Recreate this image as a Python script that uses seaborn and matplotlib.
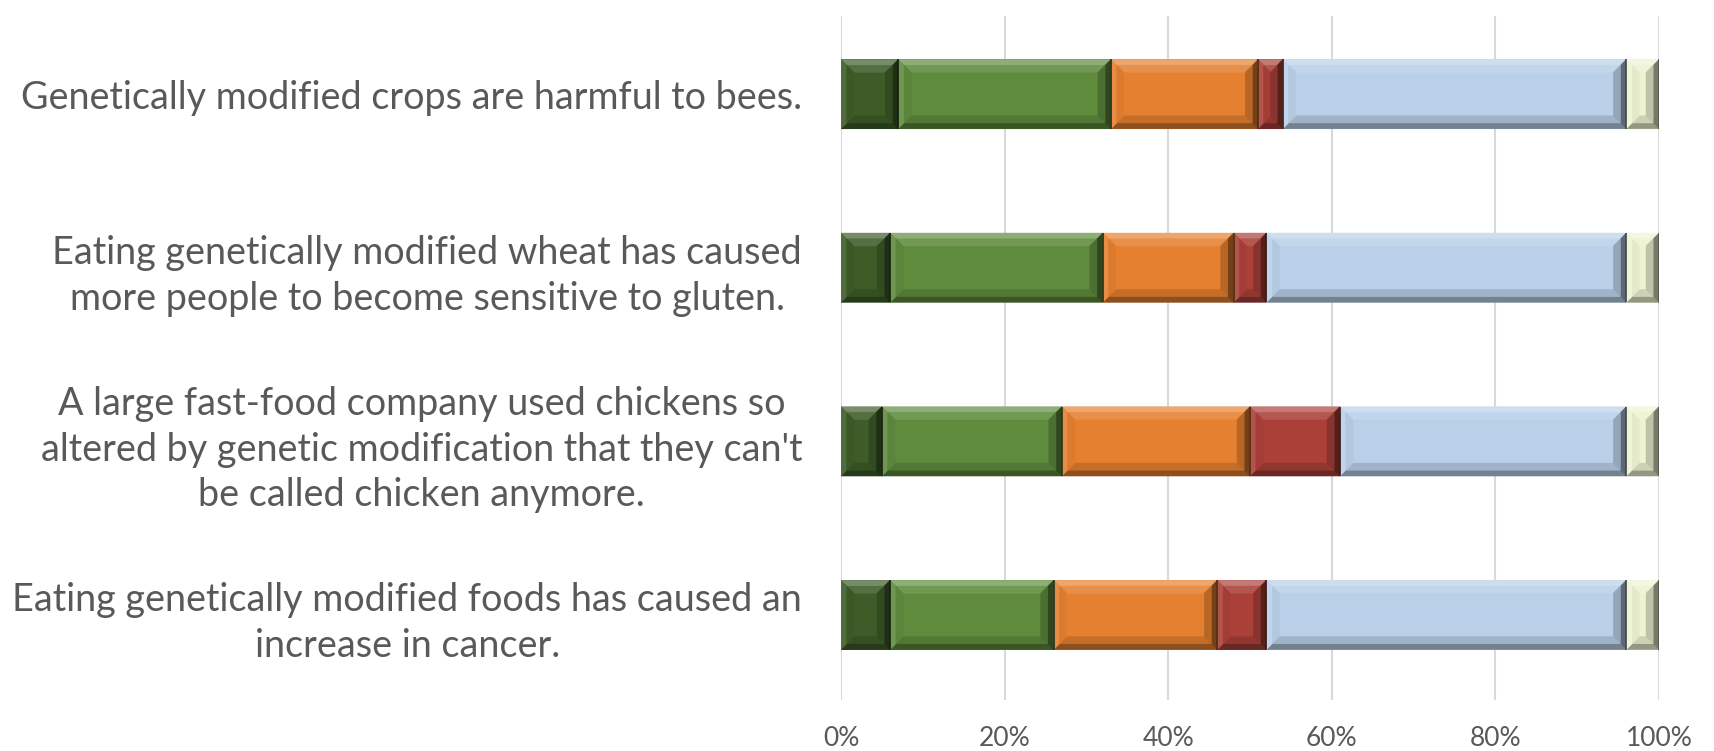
import numpy as np
import pandas as pd
import seaborn as sns
import matplotlib.pyplot as plt
from matplotlib.patches import Polygon
from matplotlib.colors import to_rgb
from matplotlib.ticker import FuncFormatter

# Survey statements (top to bottom) and response shares in percent
statements = [
    "Genetically modified crops are harmful to bees.",
    "Eating genetically modified wheat has caused\nmore people to become sensitive to gluten.",
    "A large fast-food company used chickens so\naltered by genetic modification that they can't\nbe called chicken anymore.",
    "Eating genetically modified foods has caused an\nincrease in cancer.",
]
resp_1 = [7, 6, 5, 6]
resp_2 = [26, 26, 22, 20]
resp_3 = [18, 16, 23, 20]
resp_4 = [3, 4, 11, 6]
resp_5 = [42, 44, 35, 44]
resp_6 = [4, 4, 4, 4]
series = [resp_1, resp_2, resp_3, resp_4, resp_5, resp_6]
colors = ["#3D5C28", "#5E8B3C", "#E58030", "#AA4038", "#BAD0E8", "#EEF3D2"]
x_ticks = [0, 20, 40, 60, 80, 100]

sns.set_theme(style="white")
plt.rcParams["font.family"] = ["Lato", "DejaVu Sans"]
text_color = "#595959"

fig = plt.figure(figsize=(17.14, 7.51), dpi=100)
ax = fig.add_axes([841 / 1714, 1 - 700 / 751, 818 / 1714, 684 / 751])

left = np.zeros(len(statements))
for vals, col in zip(series, colors):
    n_before = len(ax.patches)
    df = pd.DataFrame({"statement": statements, "share": vals})
    sns.barplot(data=df, x="share", y="statement", orient="h", color=col,
                saturation=1, width=0.4, linewidth=0, ax=ax, zorder=3)
    # shift each new segment so it starts where the previous one ended
    for j, p in enumerate(ax.patches[n_before:]):
        p.set_x(left[j])
    left += np.array(vals, dtype=float)

ax.set_xlim(0, 100)
ax.set_ylim(3.49, -0.45)
ax.set_xlabel("")
ax.set_ylabel("")
ax.set_xticks(x_ticks)
ax.xaxis.set_major_formatter(FuncFormatter(lambda v, _: f"{v:.0f}%"))
ax.grid(axis="x", color="#D9D9D9", linewidth=1.5, zorder=0)
ax.grid(axis="y", visible=False)
for s in ax.spines.values():
    s.set_visible(False)
ax.tick_params(axis="x", length=0, pad=19, labelsize=19, labelcolor=text_color)
ax.tick_params(axis="y", length=0, pad=28, labelsize=27.2, labelcolor=text_color)
for t in ax.get_yticklabels():
    t.set_multialignment("center")
    t.set_linespacing(1.33)


def mix(c, other, a):
    c = np.array(to_rgb(c))
    o = np.array(to_rgb(other))
    return tuple(c * (1 - a) + o * a)


# bevelled edges on every segment, sized in screen pixels
fig.canvas.draw()
inv = ax.transData.inverted()
p0 = inv.transform((0, 0))
p1 = inv.transform((13, 13))
bx = abs(p1[0] - p0[0])
by = abs(p1[1] - p0[1])

# (outer, inner) shading for each side of the bevel
shades = {
    "top": (("white", 0.30), ("white", 0.12)),
    "bottom": (("black", 0.38), ("black", 0.14)),
    "left": (("white", 0.10), ("black", 0.04)),
    "right": (("black", 0.50), ("black", 0.20)),
}

for k, col in enumerate(colors):
    for p in ax.patches[k * len(statements):(k + 1) * len(statements)]:
        x0, w = p.get_x(), p.get_width()
        y0, h = p.get_y(), p.get_height()
        x1, y1 = x0 + w, y0 + h
        dx = min(bx, w / 2)
        dy = min(by, h / 2)
        for band, (t0, t1) in enumerate(((0.0, 0.45), (0.45, 1.0))):
            # in the inverted axis, y0 is the visual top edge
            a0, a1 = (x0 + t0 * dx, y0 + t0 * dy), (x1 - t0 * dx, y0 + t0 * dy)
            b0, b1 = (x0 + t0 * dx, y1 - t0 * dy), (x1 - t0 * dx, y1 - t0 * dy)
            c0, c1 = (x0 + t1 * dx, y0 + t1 * dy), (x1 - t1 * dx, y0 + t1 * dy)
            d0, d1 = (x0 + t1 * dx, y1 - t1 * dy), (x1 - t1 * dx, y1 - t1 * dy)
            polys = {
                "top": [a0, a1, c1, c0],
                "bottom": [b0, b1, d1, d0],
                "left": [a0, c0, d0, b0],
                "right": [a1, c1, d1, b1],
            }
            for side, poly in polys.items():
                other, amt = shades[side][band]
                ax.add_patch(Polygon(poly, closed=True,
                                     facecolor=mix(col, other, amt),
                                     edgecolor=mix(col, other, amt),
                                     linewidth=0.3, zorder=4))
        ax.plot([x1, x1], [y0, y1], color=mix(col, "black", 0.65),
                linewidth=1.2, zorder=5, solid_capstyle="butt")

fig.savefig("out.png", dpi=100)
